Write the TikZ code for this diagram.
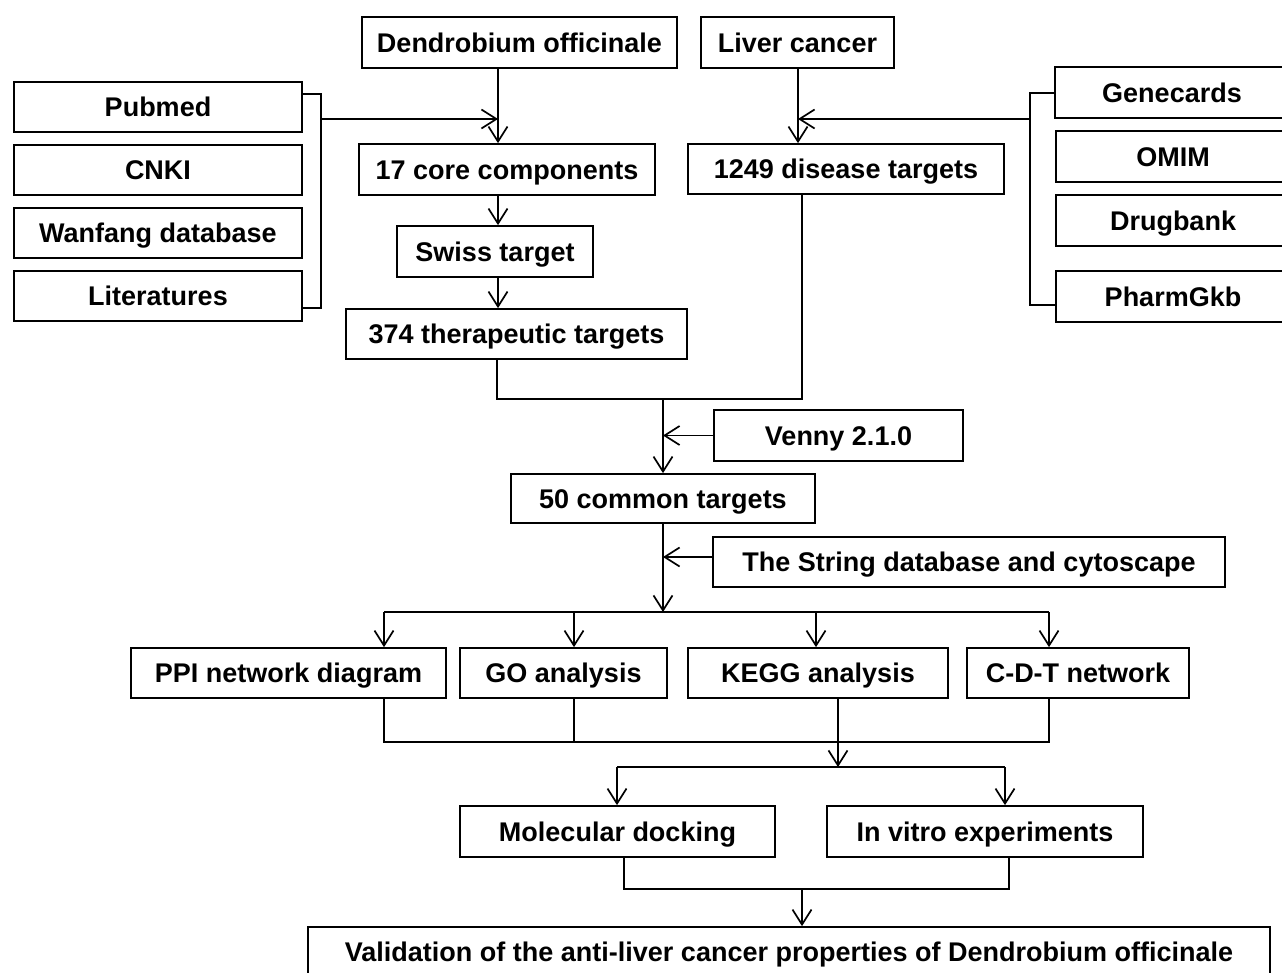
\documentclass[tikz,border=0pt]{standalone}
\usepackage{fontspec}
\setmainfont{Liberation Sans}
\usetikzlibrary{arrows.meta}
\newcommand\mybox[6]{%
  \pgfmathsetmacro\bw{#4-#2}\pgfmathsetmacro\bh{#5-#3}%
  \node[box,minimum width=\bw pt,minimum height=\bh pt] (#1) at ({(#2+#4)/2},{(#3+#5)/2}) {#6};}
\begin{document}
\begin{tikzpicture}[x=1pt,y=-1pt,
  box/.style={draw,line width=1.7pt,inner sep=0pt,text height=24.5pt,text depth=5pt,
    font=\fontsize{27}{31}\selectfont\bfseries},
  ln/.style={line width=1.9pt},
  arr/.style={ln,-{Straight Barb[length=15pt,width=19pt,line width=1.7pt]}}]
\useasboundingbox (0,0) rectangle (1282,973);
% boxes
\mybox{dend}{362}{17}{677}{68}{Dendrobium officinale}
\mybox{liver}{701}{17}{894}{68}{Liver cancer}
\mybox{pub}{14}{82}{302}{132}{Pubmed}
\mybox{cnki}{14}{145}{302}{195}{CNKI}
\mybox{wan}{14}{208}{302}{258}{Wanfang database}
\mybox{lit}{14}{271}{302}{321}{Literatures}
\mybox{core}{359}{144}{655}{195}{17 core components}
\mybox{swiss}{397}{226}{593}{277}{Swiss target}
\mybox{ther}{346}{309}{687}{359}{374 therapeutic targets}
\mybox{dis}{688}{144}{1004}{194}{1249 disease targets}
\mybox{gene}{1055}{67}{1289}{118}{Genecards}
\mybox{omim}{1056}{131}{1290}{182}{OMIM}
\mybox{drug}{1056}{195}{1290}{246}{Drugbank}
\mybox{pharm}{1056}{271}{1290}{322}{PharmGkb}
\mybox{venny}{714}{410}{963}{461}{Venny 2.1.0}
\mybox{common}{511}{474}{815}{523}{50 common targets}
\mybox{string}{713}{537}{1225}{587}{The String database and cytoscape}
\mybox{ppi}{131}{648}{446}{698}{PPI network diagram}
\mybox{go}{460}{648}{667}{698}{GO analysis}
\mybox{kegg}{688}{648}{948}{698}{KEGG analysis}
\mybox{cdt}{967}{648}{1189}{698}{C-D-T network}
\mybox{mol}{460}{806}{775}{857}{Molecular docking}
\mybox{vitro}{827}{806}{1143}{857}{In vitro experiments}
\mybox{valid}{308}{927}{1270}{977}{Validation of the anti-liver cancer properties of Dendrobium officinale}
% left column
\coordinate (xa) at (498,0);
\draw[arr] (dend.south -| xa) -- (core.north -| xa);
\draw[arr] (core.south -| xa) -- (swiss.north -| xa);
\draw[arr] (swiss.south -| xa) -- (ther.north -| xa);
\coordinate (lb1) at (321,94);
\coordinate (lb2) at (321,308);
\coordinate (lbm) at (321,119);
\draw[ln] (pub.east |- lb1) -- (lb1) -- (lb2) -- (lit.east |- lb2);
\draw[arr] (lbm) -- (lbm -| xa);
% right column
\coordinate (xb) at (798,0);
\draw[arr] (liver.south -| xb) -- (dis.north -| xb);
\coordinate (rb1) at (1030,93);
\coordinate (rb2) at (1030,305);
\coordinate (rbm) at (1030,119);
\draw[ln] (gene.west |- rb1) -- (rb1) -- (rb2) -- (pharm.west |- rb2);
\draw[arr] (rbm) -- (rbm -| xb);
% merge
\coordinate (m1) at (497,399);
\coordinate (m2) at (802,399);
\coordinate (xc) at (663,399);
\draw[ln] (ther.south -| m1) -- (m1) -- (m2) -- (dis.south -| m2);
\draw[arr] (xc) -- (common.north -| xc);
\draw[arr] (venny.west) -- (venny.west -| xc);
\coordinate (sp) at (663,612);
\draw[arr] (common.south -| xc) -- (sp);
\coordinate (sa) at (0,557);
\draw[arr] (string.west |- sa) -- (xc |- sa);
% split to four
\coordinate (s1) at (384,612);
\coordinate (s2) at (574,612);
\coordinate (s3) at (816,612);
\coordinate (s4) at (1049,612);
\draw[ln] (s1) -- (s4);
\draw[arr] (s1) -- (ppi.north -| s1);
\draw[arr] (s2) -- (go.north -| s2);
\draw[arr] (s3) -- (kegg.north -| s3);
\draw[arr] (s4) -- (cdt.north -| s4);
% merge four
\coordinate (t1) at (384,742);
\coordinate (t2) at (574,742);
\coordinate (t3) at (838,742);
\coordinate (t4) at (1049,742);
\coordinate (u) at (838,767);
\draw[ln] (ppi.south -| t1) -- (t1) -- (t4) -- (cdt.south -| t4);
\draw[ln] (go.south -| t2) -- (t2);
\draw[arr] (kegg.south -| t3) -- (u);
\coordinate (u1) at (617,767);
\coordinate (u2) at (1005,767);
\draw[ln] (u1) -- (u2);
\draw[arr] (u1) -- (mol.north -| u1);
\draw[arr] (u2) -- (vitro.north -| u2);
% final
\coordinate (v1) at (624,889);
\coordinate (v2) at (1009,889);
\coordinate (v3) at (802,889);
\draw[ln] (mol.south -| v1) -- (v1) -- (v2) -- (vitro.south -| v2);
\draw[arr] (v3) -- (valid.north -| v3);
\end{tikzpicture}
\end{document}
